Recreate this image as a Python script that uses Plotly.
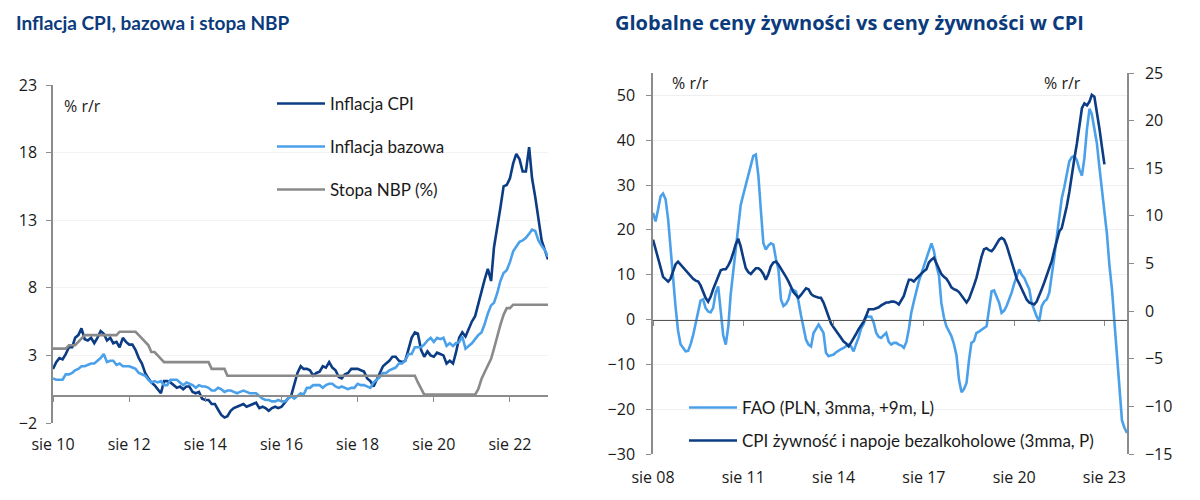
import pandas as pd
import plotly.graph_objects as go

# ---------------- Left chart data (monthly, sie 2010 - sie 2023) ----------------
left_start = "2010-08-01"
cpi = [2.0, 2.5, 2.8, 2.7, 3.1,
       3.6, 3.6, 4.3, 4.5, 5.0, 4.2, 4.1, 4.3, 3.9, 4.3, 4.8, 4.6,
       4.1, 4.3, 3.9, 4.0, 3.6, 4.3, 4.0, 3.8, 3.8, 3.4, 2.8, 2.4,
       1.7, 1.3, 1.0, 0.8, 0.5, 0.2, 1.1, 1.1, 1.0, 0.8, 0.6, 0.7,
       0.5, 0.7, 0.7, 0.3, 0.2, 0.3, -0.2, -0.3, -0.3, -0.6, -0.6, -1.0,
       -1.4, -1.6, -1.5, -1.1, -0.9, -0.8, -0.7, -0.6, -0.8, -0.7, -0.6, -0.5,
       -0.9, -0.8, -0.9, -1.1, -0.9, -0.8, -0.9, -0.8, -0.5, -0.2, 0.0, 0.8,
       1.7, 2.2, 2.0, 2.0, 1.9, 1.5, 1.7, 1.8, 2.2, 2.1, 2.5, 2.1,
       1.9, 1.4, 1.3, 1.6, 1.7, 2.0, 2.0, 2.0, 1.9, 1.8, 1.3, 1.1,
       0.7, 1.2, 1.7, 2.2, 2.4, 2.6, 2.9, 2.9, 2.6, 2.5, 2.6, 3.4,
       4.3, 4.7, 4.6, 3.4, 2.9, 3.3, 3.0, 2.9, 3.2, 3.1, 3.0, 2.4,
       2.6, 2.4, 3.2, 4.3, 4.7, 4.4, 5.0, 5.5, 5.9, 6.8, 7.8, 8.6,
       9.4, 8.5, 11.0, 12.4, 13.9, 15.5, 15.6, 16.1, 17.2, 17.9, 17.5, 16.6,
       16.6, 18.4, 16.1, 14.7, 13.0, 11.5, 10.8, 10.1]
core = [1.3, 1.2, 1.2, 1.2, 1.6,
        1.6, 1.7, 1.9, 2.0, 2.2, 2.2, 2.3, 2.4, 2.4, 2.6, 2.8, 3.1,
        2.5, 2.6, 2.6, 2.3, 2.4, 2.2, 2.2, 2.2, 2.1, 2.0, 1.7, 1.6,
        1.5, 1.2, 1.0, 1.1, 1.0, 1.1, 0.8, 0.8, 1.2, 1.2, 1.2, 1.0,
        0.8, 1.0, 0.9, 0.8, 0.6, 0.8, 0.7, 0.7, 0.6, 0.4, 0.4, 0.6,
        0.5, 0.3, 0.4, 0.4, 0.3, 0.2, 0.3, 0.4, 0.3, 0.2, 0.2, 0.2,
        0.0, -0.2, -0.3, -0.3, -0.4, -0.4, -0.3, -0.4, -0.4, -0.2, 0.0, -0.2,
        0.0, 0.2, 0.1, 0.6, 0.6, 0.8, 0.8, 0.8, 0.6, 0.8, 0.9, 0.9,
        0.7, 0.6, 0.7, 0.6, 0.5, 0.6, 0.6, 0.9, 0.8, 0.8, 0.7, 0.6,
        1.0, 1.2, 1.4, 1.7, 1.7, 1.9, 2.0, 2.1, 2.4, 2.4, 2.6, 3.1,
        3.1, 3.6, 3.6, 3.6, 3.8, 4.1, 4.3, 4.0, 4.3, 4.2, 4.3, 3.7,
        3.9, 3.7, 3.9, 4.0, 4.4, 3.5, 3.7, 3.9, 4.2, 4.5, 4.7, 5.3,
        6.1, 6.7, 6.9, 7.6, 8.5, 9.1, 9.3, 9.9, 10.7, 11.0, 11.4, 11.5,
        11.7, 12.0, 12.3, 12.2, 11.5, 11.1, 10.8, 10.3]
nbp = [3.5, 3.5, 3.5, 3.5, 3.5,
       3.75, 3.75, 3.75, 4.0, 4.25, 4.5, 4.5, 4.5, 4.5, 4.5, 4.5, 4.5,
       4.5, 4.5, 4.5, 4.5, 4.75, 4.75, 4.75, 4.75, 4.75, 4.75, 4.5, 4.25,
       4.0, 3.75, 3.25, 3.25, 3.0, 2.75, 2.5, 2.5, 2.5, 2.5, 2.5, 2.5,
       2.5, 2.5, 2.5, 2.5, 2.5, 2.5, 2.5, 2.5, 2.5, 2.0, 2.0, 2.0,
       2.0, 2.0, 1.5, 1.5, 1.5, 1.5, 1.5, 1.5, 1.5, 1.5, 1.5, 1.5,
       1.5, 1.5, 1.5, 1.5, 1.5, 1.5, 1.5, 1.5, 1.5, 1.5, 1.5, 1.5,
       1.5, 1.5, 1.5, 1.5, 1.5, 1.5, 1.5, 1.5, 1.5, 1.5, 1.5, 1.5,
       1.5, 1.5, 1.5, 1.5, 1.5, 1.5, 1.5, 1.5, 1.5, 1.5, 1.5, 1.5,
       1.5, 1.5, 1.5, 1.5, 1.5, 1.5, 1.5, 1.5, 1.5, 1.5, 1.5, 1.5,
       1.5, 1.5, 1.0, 0.5, 0.1, 0.1, 0.1, 0.1, 0.1, 0.1, 0.1, 0.1,
       0.1, 0.1, 0.1, 0.1, 0.1, 0.1, 0.1, 0.1, 0.1, 0.5, 1.25, 1.75,
       2.25, 2.75, 3.5, 4.5, 5.25, 6.0, 6.5, 6.5, 6.75, 6.75, 6.75, 6.75,
       6.75, 6.75, 6.75, 6.75, 6.75, 6.75, 6.75, 6.75]
left_ticks = ["2010-08-01", "2012-08-01", "2014-08-01", "2016-08-01",
              "2018-08-01", "2020-08-01", "2022-08-01"]
left_ticktext = ["sie 10", "sie 12", "sie 14", "sie 16", "sie 18", "sie 20", "sie 22"]
left_yticks = [-2, 3, 8, 13, 18, 23]

# ---------------- Right chart data (monthly, from sie 2008) ----------------
right_start = "2008-08-01"
fao = [23.8, 21.9, 24.5, 27.5, 28.1, 26.8, 22.3, 16.0, 9.0, 3.0,
       -2.5, -5.5, -6.3, -7.1, -7.0, -5.5, -3.5, -0.8, 2.5, 4.2,
       4.5, 2.6, 1.8, 1.6, 2.6, 6.0, 7.4, 2.2, -3.5, -5.6,
       -1.5, 5.5, 10.5, 15.0, 20.1, 25.5, 27.8, 30.0, 32.5, 34.8,
       36.5, 36.8, 32.0, 24.6, 17.1, 15.6, 16.5, 17.0, 16.7, 13.5,
       11.2, 4.5, 3.0, 3.5, 4.5, 6.7, 6.6, 6.3, 4.1, 1.0,
       -2.2, -4.5, -5.6, -6.0, -3.0, -1.9, -1.1, -2.0, -3.0, -7.4,
       -8.2, -8.0, -7.8, -7.3, -6.9, -6.6, -6.3, -5.9, -5.6, -6.0,
       -7.1, -5.5, -4.0, -2.0, -1.0, 0.7, 0.7, 0.6, -0.7, -3.0,
       -3.9, -4.1, -3.5, -3.0, -5.0, -5.6, -5.2, -5.2, -5.6, -5.8,
       -6.3, -5.0, -2.0, 1.5, 4.0, 6.5, 8.5, 10.2, 11.9, 13.6,
       15.3, 17.0, 15.3, 12.0, 9.7, 3.7, 0.5, -1.5, -2.6, -3.7,
       -5.5, -8.0, -13.4, -16.2, -15.5, -14.1, -8.9, -5.2, -4.8, -3.0,
       -2.7, -2.2, -1.9, -1.5, 2.6, 6.3, 6.5, 5.0, 3.7, 1.5,
       2.0, 3.0, 4.5, 6.0, 8.0, 9.7, 11.2, 10.0, 9.3, 8.0,
       6.7, 3.7, 2.0, 0.7, -0.4, 3.0, 4.0, 4.5, 6.0, 9.7,
       14.0, 18.6, 23.8, 27.0, 29.5, 32.0, 35.3, 36.2, 36.5, 35.5,
       33.5, 32.1, 36.0, 42.5, 47.0, 45.8, 42.0, 39.4, 34.0, 29.0,
       23.8, 19.0, 12.0, 6.7, -0.7, -8.2, -17.0, -22.5, -24.2, -25.3]
cpi_food = [7.5, 6.6, 5.7, 4.6, 3.6, 3.3, 3.1, 3.4, 4.2, 4.9,
            5.2, 4.9, 4.5, 4.3, 4.0, 3.7, 3.4, 3.2, 3.1, 2.7,
            2.1, 1.4, 1.0, 1.5, 2.3, 3.0, 3.6, 4.3, 4.4, 4.4,
            4.8, 5.3, 6.1, 7.0, 7.6, 6.8, 5.6, 4.5, 4.1, 3.9,
            4.2, 4.5, 4.5, 4.3, 3.9, 3.3, 3.9, 4.7, 5.1, 5.2,
            4.9, 4.5, 4.0, 3.6, 3.1, 2.5, 2.0, 1.7, 1.4, 1.7,
            2.1, 2.4, 2.3, 1.8, 1.6, 1.5, 1.4, 1.4, 0.9, 0.2,
            -0.6, -1.3, -1.7, -2.1, -2.5, -2.8, -3.2, -3.4, -3.7, -3.3,
            -2.9, -2.4, -1.9, -1.5, -1.1, -0.5, 0.2, 0.2, 0.2, 0.3,
            0.4, 0.6, 0.8, 0.9, 0.9, 1.0, 1.0, 0.9, 0.7, 1.1,
            1.6, 2.5, 3.3, 3.3, 3.1, 3.4, 3.7, 3.9, 4.2, 4.4,
            5.1, 5.4, 5.6, 5.0, 4.5, 3.9, 3.6, 3.4, 3.0, 2.5,
            2.3, 2.2, 2.0, 1.6, 1.2, 0.9, 1.3, 1.9, 2.7, 3.5,
            4.8, 5.7, 6.5, 6.6, 6.4, 6.3, 6.6, 7.1, 7.5, 7.7,
            7.5, 6.9, 6.0, 5.0, 4.2, 3.4, 2.9, 2.3, 1.8, 1.2,
            0.9, 0.8, 0.7, 1.0, 1.6, 2.3, 3.0, 3.8, 4.5, 5.3,
            6.4, 7.5, 8.4, 8.7, 9.8, 11.0, 12.5, 14.0, 16.0, 17.6,
            19.5, 21.3, 21.8, 21.6, 22.0, 22.7, 22.5, 21.0, 19.2, 17.3,
            15.4]
right_ticks = ["2008-08-01", "2011-08-01", "2014-08-01", "2017-08-01",
               "2020-08-01", "2023-08-01"]
right_ticktext = ["sie 08", "sie 11", "sie 14", "sie 17", "sie 20", "sie 23"]
right_yticks_l = [-30, -20, -10, 0, 10, 20, 30, 40, 50]
right_yticks_r = [-15, -10, -5, 0, 5, 10, 15, 20, 25]

dates_l = pd.date_range(left_start, periods=len(cpi), freq="MS")
dates_fao = pd.date_range(right_start, periods=len(fao), freq="MS")
dates_food = pd.date_range(right_start, periods=len(cpi_food), freq="MS")

DARK = "#0b3c84"
LIGHT = "#4ba0ea"
GRAY = "#8a8a8a"
AXIS = "#8c8c8c"
TXT = "#1a1a1a"
TITLE = "#0b3b7c"
TICKFONT = dict(family="Open Sans", size=16, color=TXT)
LEGFONT = dict(family="Lato", size=17, color=TXT)

# the page body has an 8px margin: lay the figure out in window pixels
OX, OY, W, H = 8, 8, 1184, 484
def fx(x):
    return (x - OX) / W
def fy(y):
    return 1 - (y - OY) / H

fig = go.Figure()
fig.add_trace(go.Scatter(x=dates_l, y=cpi, name="Inflacja CPI", mode="lines",
                         line=dict(color=DARK, width=2.6), xaxis="x", yaxis="y", legend="legend"))
fig.add_trace(go.Scatter(x=dates_l, y=core, name="Inflacja bazowa", mode="lines",
                         line=dict(color=LIGHT, width=2.6), xaxis="x", yaxis="y", legend="legend2"))
fig.add_trace(go.Scatter(x=dates_l, y=nbp, name="Stopa NBP (%)", mode="lines",
                         line=dict(color=GRAY, width=2.6), xaxis="x", yaxis="y", legend="legend3"))
fig.add_trace(go.Scatter(x=dates_fao, y=fao, name="FAO (PLN, 3mma, +9m, L)", mode="lines",
                         line=dict(color=LIGHT, width=2.6), xaxis="x2", yaxis="y2", legend="legend4"))
fig.add_trace(go.Scatter(x=dates_food, y=cpi_food,
                         name="CPI żywność i napoje bezalkoholowe (3mma, P)", mode="lines",
                         line=dict(color=DARK, width=2.6), xaxis="x2", yaxis="y3", legend="legend5"))

L_X = [fx(53), fx(548)]
L_Y = [fy(423), fy(85)]
R_X = [fx(653), fx(1127)]
R_Y = [fy(454), fy(73)]
l_zero = L_Y[0] + (0 - (-2)) / 25 * (L_Y[1] - L_Y[0])
r_zero = R_Y[0] + (0 - (-30)) / 85 * (R_Y[1] - R_Y[0])

def leg(x, y):
    return dict(x=fx(x), y=fy(y), xanchor="left", yanchor="middle", bgcolor="rgba(0,0,0,0)",
                font=LEGFONT, borderwidth=0, itemwidth=48)

fig.update_layout(
    width=W, height=H, margin=dict(l=0, r=0, t=0, b=0, autoexpand=False),
    paper_bgcolor="white", plot_bgcolor="white", showlegend=True,
    xaxis=dict(domain=L_X, range=[dates_l[0], dates_l[-1]], anchor="free", position=l_zero,
               showline=True, linecolor=AXIS, linewidth=1.5, ticks="outside", ticklen=5,
               tickcolor=AXIS, tickvals=left_ticks, ticktext=left_ticktext, tickfont=TICKFONT,
               ticklabelstandoff=29, showgrid=False, zeroline=False, automargin=False),
    yaxis=dict(domain=L_Y, range=[-2, 23], anchor="x", tickvals=left_yticks, showline=True,
               linecolor=AXIS, linewidth=1.5, ticks="outside", ticklen=5, tickcolor=AXIS,
               tickfont=TICKFONT, showgrid=True, gridcolor="#f3f3f3", zeroline=False,
               ticklabelstandoff=6, automargin=False),
    xaxis2=dict(domain=R_X, range=[dates_fao[0], dates_fao[-1]], anchor="free", position=r_zero,
                showline=True, linecolor="#555555", linewidth=1.2, ticks="outside", ticklen=5,
                tickcolor=AXIS, tickvals=right_ticks, ticktext=right_ticktext, tickfont=TICKFONT,
                ticklabelstandoff=138, showgrid=False, zeroline=False, automargin=False),
    yaxis2=dict(domain=R_Y, range=[-30, 55], anchor="x2", side="left", tickvals=right_yticks_l,
                showline=True, linecolor=AXIS, linewidth=1.5, ticks="outside", ticklen=5,
                tickcolor=AXIS, tickfont=TICKFONT, showgrid=True, gridcolor="#efefef",
                zeroline=False, ticklabelstandoff=8, automargin=False),
    yaxis3=dict(range=[-15, 25], anchor="x2", overlaying="y2", side="right",
                tickvals=right_yticks_r, showline=True, linecolor=AXIS, linewidth=1.5,
                ticks="outside", ticklen=5, tickcolor=AXIS, tickfont=TICKFONT,
                showgrid=False, zeroline=False, ticklabelstandoff=8, automargin=False),
    legend=leg(272, 104),
    legend2=leg(272, 147),
    legend3=leg(272, 190),
    legend4=leg(684, 408),
    legend5=leg(684, 441),
)

ann = [
    dict(text="Inflacja CPI, bazowa i stopa NBP", x=fx(14), y=fy(23),
         font=dict(family="Lato", size=19, color=TITLE, weight="bold")),
    dict(text="Globalne ceny żywności vs ceny żywności w CPI", x=fx(613), y=fy(23),
         font=dict(family="Open Sans", size=20, color=TITLE, weight="bold")),
    dict(text="% r/r", x=fx(62), y=fy(106), font=dict(family="Open Sans", size=16, color=TXT)),
    dict(text="% r/r", x=fx(670), y=fy(83), font=dict(family="Open Sans", size=16, color=TXT)),
    dict(text="% r/r", x=fx(1042), y=fy(83), font=dict(family="Open Sans", size=16, color=TXT)),
]
for a in ann:
    fig.add_annotation(xref="paper", yref="paper", xanchor="left", yanchor="middle",
                       showarrow=False, **a)

fig.write_html("out.html")
